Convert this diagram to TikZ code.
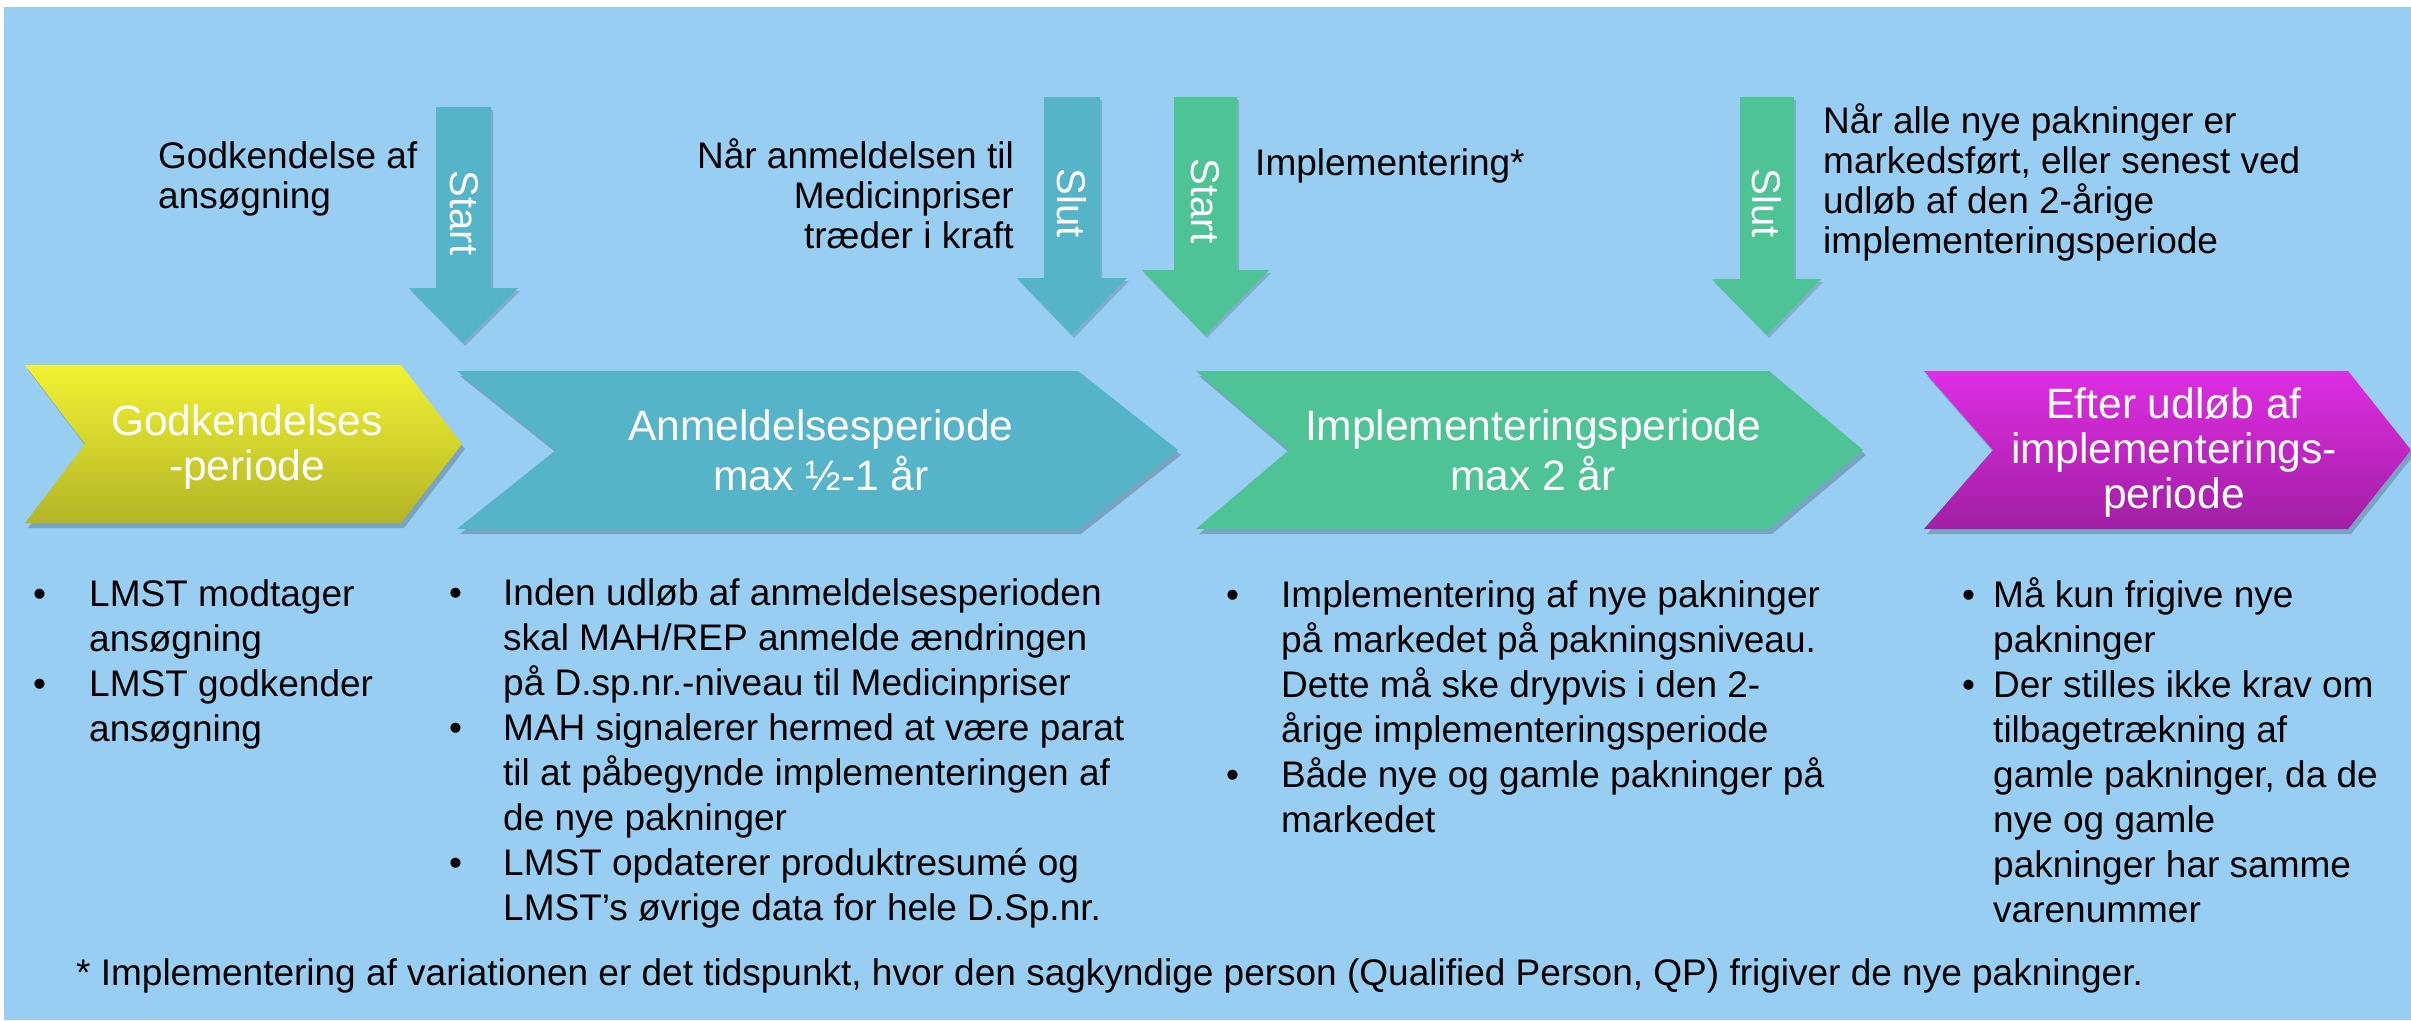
\documentclass[tikz,border=0pt]{standalone}
\usepackage{fontspec}
\setmainfont{Liberation Sans}
\usetikzlibrary{shadows}
\definecolor{bgblue}{HTML}{97CEF2}
\definecolor{tealc}{HTML}{56B4C8}
\definecolor{greenc}{HTML}{4EC396}
\definecolor{yeltop}{HTML}{F2F233}
\definecolor{yelbot}{HTML}{B3B526}
\definecolor{magtop}{HTML}{DE2DE3}
\definecolor{magbot}{HTML}{A11FA3}
\newcommand{\bodyfont}{\fontsize{37}{45}\selectfont}
\newcommand{\nl}{\hfil\break}
\newcommand{\bitem}[2]{\par\noindent\hangindent=#1\hangafter=1\makebox[#1][l]{•}#2\par}
\tikzset{
  chev/.style={drop shadow={shadow xshift=3pt,shadow yshift=-5pt,opacity=0.2,fill=black}},
  downarrow/.style={drop shadow={shadow xshift=2pt,shadow yshift=-3pt,opacity=0.15,fill=black}},
  chevtext/.style={anchor=base,inner sep=0pt,text=white},
  arrtext/.style={rotate=-90,text=white,inner sep=0pt,font=\fontsize{40}{40}\selectfont},
  toplabel/.style={inner sep=0pt},
  bodycol/.style={anchor=base west,inner sep=0pt}
}
\begin{document}
\begin{tikzpicture}[x=1pt,y=-1pt]
\useasboundingbox (0,0) rectangle (2411,1020);
\fill[white] (0,0) rectangle (2411,1020);
\fill[bgblue] (4,7) rectangle (2411,1020);

% down arrows
\path[fill=tealc,downarrow] (436,107) -- (491,107) -- (491,288) -- (518,288) -- (463,343) -- (409,288) -- (436,288) -- cycle;
\path[fill=tealc,downarrow] (1044,97) -- (1100,97) -- (1100,278) -- (1127,278) -- (1072,335) -- (1017,278) -- (1044,278) -- cycle;
\path[fill=greenc,downarrow] (1174,97) -- (1237,97) -- (1237,270) -- (1269,270) -- (1205,335) -- (1142,270) -- (1174,270) -- cycle;
\path[fill=greenc,downarrow] (1740,97) -- (1794,97) -- (1794,279) -- (1821,279) -- (1767,335) -- (1712,279) -- (1740,279) -- cycle;

\node[arrtext] (a1) at (464,213) {Start};
\node[arrtext] (a2) at (1072,203) {Slut};
\node[arrtext] (a3) at (1205,201) {Start};
\node[arrtext] (a4) at (1767,203) {Slut};

% top labels
\node[toplabel,anchor=base west] (l1) at (158,168) {\parbox[t]{400pt}{\fontsize{37}{40}\selectfont\raggedright Godkendelse af\\ansøgning}};
\node[toplabel,anchor=base east] (l2) at (1014,168) {\parbox[t]{400pt}{\fontsize{37}{40}\selectfont\raggedleft Når anmeldelsen til\\Medicinpriser\\træder i kraft}};
\node[toplabel,anchor=base west] (l3) at (1255,175) {\fontsize{37}{40}\selectfont Implementering*};
\node[toplabel,anchor=base west] (l4) at (1823,133) {\parbox[t]{560pt}{\fontsize{37}{40}\selectfont\raggedright Når alle nye pakninger er\\markedsført, eller senest ved\\udløb af den 2-årige\\implementeringsperiode}};

% chevrons
\path[top color=yeltop,bottom color=yelbot,chev] (25,365) -- (401,365) -- (462,444) -- (401,523) -- (25,523) -- (85,444) -- cycle;
\path[fill=tealc,chev] (457,371) -- (1078,371) -- (1178,450) -- (1078,529) -- (457,529) -- (556,450) -- cycle;
\path[fill=greenc,chev] (1196,371) -- (1769,371) -- (1863,450) -- (1769,529) -- (1196,529) -- (1289,450) -- cycle;
\path[top color=magtop,bottom color=magbot,chev] (1924,371) -- (2348,371) -- (2411,450) -- (2348,529) -- (1924,529) -- (1993,450) -- cycle;

\node[chevtext] (c1) at (247,435) {\parbox[t]{440pt}{\centering\fontsize{42.5}{45}\selectfont Godkendelses\\-periode}};
\node[chevtext] (c2) at (821,440) {\parbox[t]{600pt}{\centering\fontsize{42.5}{50}\selectfont Anmeldelsesperiode\\max ½-1 år}};
\node[chevtext] (c3) at (1533,440) {\parbox[t]{600pt}{\centering\fontsize{42.5}{50}\selectfont Implementeringsperiode\\max 2 år}};
\node[chevtext] (c4) at (2174,418) {\parbox[t]{440pt}{\centering\fontsize{42.5}{45}\selectfont Efter udløb af\\implementerings-\\periode}};

% bullet columns
\node[bodycol] (b1) at (33,606) {\parbox[t]{420pt}{\bodyfont\raggedright
\bitem{56pt}{LMST modtager\nl ansøgning}
\bitem{56pt}{LMST godkender\nl ansøgning}}};
\node[bodycol] (b2) at (449,605) {\parbox[t]{720pt}{\bodyfont\raggedright
\bitem{54pt}{Inden udløb af anmeldelsesperioden\nl skal MAH/REP anmelde ændringen\nl på D.sp.nr.-niveau til Medicinpriser}
\bitem{54pt}{MAH signalerer hermed at være parat\nl til at påbegynde implementeringen af\nl de nye pakninger}
\bitem{54pt}{LMST opdaterer produktresumé og\nl LMST’s øvrige data for hele D.Sp.nr.}}};
\node[bodycol] (b3) at (1226,607) {\parbox[t]{700pt}{\bodyfont\raggedright
\bitem{55pt}{Implementering af nye pakninger\nl på markedet på pakningsniveau.\nl Dette må ske drypvis i den 2-\nl årige implementeringsperiode}
\bitem{55pt}{Både nye og gamle pakninger på\nl markedet}}};
\node[bodycol] (b4) at (1962,607) {\parbox[t]{440pt}{\bodyfont\raggedright
\bitem{31pt}{Må kun frigive nye\nl pakninger}
\bitem{31pt}{Der stilles ikke krav om\nl tilbagetrækning af\nl gamle pakninger, da de\nl nye og gamle\nl pakninger har samme\nl varenummer}}};

% footnote
\node[anchor=base west,inner sep=0pt] (fn) at (76,985) {\fontsize{37}{45}\selectfont * Implementering af variationen er det tidspunkt, hvor den sagkyndige person (Qualified Person, QP) frigiver de nye pakninger.};
\end{tikzpicture}
\end{document}
